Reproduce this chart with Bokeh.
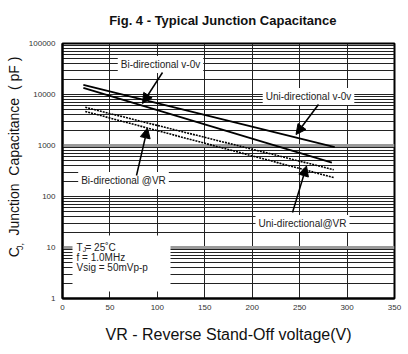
import math
from bokeh.plotting import figure
from bokeh.models import (Label, Arrow, NormalHead, BoxAnnotation, FixedTicker,
                          NumeralTickFormatter, Span, LogAxis, LinearAxis)
from bokeh.embed import file_html
from bokeh.resources import INLINE

# ---- data ----
x_ticks = [0, 50, 100, 150, 200, 250, 300, 350]
y_ticks = [1, 10, 100, 1000, 10000, 100000]

uni_v0_v = [22, 287]
uni_v0_c = [15500, 930]
bi_v0_v = [22, 284]
bi_v0_c = [13500, 460]
uni_vr_v = [24, 286]
uni_vr_c = [5600, 335]
bi_vr_v = [24, 286]
bi_vr_c = [4650, 235]

FONT = "Liberation Sans"
W, H = 408, 354
# frame geometry (pixels in the 408x354 page)
FL, FR, FT, FB = 62, 394, 43, 298


def dx(px):
    return (px - FL) * 350.0 / (FR - FL)


def dy(py):
    return 10 ** (5 - (py - FT) * 5.0 / (FB - FT))


p = figure(width=W, height=H, y_axis_type="log", x_range=(0, 350), y_range=(1, 100000),
           output_backend="svg", toolbar_location=None,
           min_border_left=FL, min_border_right=W - FR, min_border_top=FT,
           min_border_bottom=H - FB)
p.background_fill_color = "white"
p.border_fill_color = "white"
p.outline_line_color = "black"
p.outline_line_width = 2


def plain(ax, font_size, color="#222222"):
    ax.major_tick_line_color = None
    ax.minor_tick_line_color = None
    ax.major_tick_out = 0
    ax.major_tick_in = 0
    ax.minor_tick_out = 0
    ax.minor_tick_in = 0
    ax.major_label_text_font = FONT
    ax.major_label_text_font_size = font_size
    ax.major_label_text_color = color


minor = [m * 10 ** d for d in range(0, 5) for m in range(2, 10)]
p.yaxis.ticker = FixedTicker(ticks=y_ticks, minor_ticks=minor)
p.xaxis.ticker = FixedTicker(ticks=x_ticks, minor_ticks=[])
p.yaxis.formatter = NumeralTickFormatter(format="0")
for ax in (p.xaxis, p.yaxis):
    plain(ax, "8px", "#333333")
    ax.axis_line_color = "black"
    ax.axis_line_width = 2
p.yaxis.major_label_standoff = 7
p.xaxis.major_label_standoff = 6

# x axis title
p.xaxis.axis_label = "VR - Reverse Stand-Off voltage(V)"
p.xaxis.axis_label_text_font = FONT
p.xaxis.axis_label_text_font_size = "16px"
p.xaxis.axis_label_text_font_style = "normal"
p.xaxis.axis_label_text_color = "#111111"
p.xaxis.axis_label_standoff = 13

# chart title, drawn as the single label of an axis above the frame
title_ax = LinearAxis(ticker=FixedTicker(ticks=[169]),
                      major_label_overrides={169: "Fig. 4 - Typical Junction Capacitance"})
plain(title_ax, "13px", "#111111")
title_ax.major_label_text_font_style = "bold"
title_ax.axis_line_color = None
title_ax.major_label_standoff = 16
p.add_layout(title_ax, "above")

# y axis title: "C" + subscript "J," + rest, drawn as labels of two extra left axes
sub_ax = LogAxis(ticker=FixedTicker(ticks=[10.5]), major_label_overrides={10.5: "J,"},
                 major_label_orientation="parallel")
plain(sub_ax, "9px", "#111111")
sub_ax.axis_line_color = None
sub_ax.major_label_standoff = 0
p.add_layout(sub_ax, "left")

ylab_ax = LogAxis(ticker=FixedTicker(ticks=[595]),
                  major_label_overrides={595: "C\u00a0\u00a0\u00a0Junction\u00a0 Capacitance\u00a0\u00a0(\u00a0pF\u00a0)"},
                  major_label_orientation="parallel")
plain(ylab_ax, "14px", "#111111")
ylab_ax.axis_line_color = None
ylab_ax.major_label_standoff = -10
p.add_layout(ylab_ax, "left")

p.xgrid.grid_line_color = "#222222"
p.xgrid.grid_line_width = 1
p.ygrid.grid_line_color = "#222222"
p.ygrid.grid_line_width = 1
p.ygrid.minor_grid_line_color = "#222222"
p.ygrid.minor_grid_line_width = 1

for loc in (1000, 10):
    p.add_layout(Span(location=loc, dimension="width", line_color="#9a9a9a",
                      line_width=3, level="underlay"))

p.line(uni_v0_v, uni_v0_c, line_color="black", line_width=1.8)
p.line(bi_v0_v, bi_v0_c, line_color="black", line_width=1.8)
p.line(uni_vr_v, uni_vr_c, line_color="black", line_width=1.6, line_dash="2 1")
p.line(bi_vr_v, bi_vr_c, line_color="black", line_width=1.6, line_dash="2 1")

# white box behind conditions text
p.add_layout(BoxAnnotation(left=dx(72), right=dx(170), top=dy(235), bottom=dy(291),
                           fill_color="white", fill_alpha=1, line_alpha=0))


def lab(text, px, py, size="10px", align="center", **kw):
    p.add_layout(Label(x=dx(px), y=dy(py), text=text, text_font=FONT, text_font_size=size,
                       text_align=align, text_baseline="middle", text_color="#222222", **kw))


bg = dict(background_fill_color="white", background_fill_alpha=1.0, padding=3)
lab("Bi-directional v-0v", 160, 64, **bg)
lab("Uni-directional v-0v", 308, 96, **bg)
lab("Bi-directional @VR", 123, 180, **bg)
lab("Uni-directional@VR", 302, 223, **bg)

for (tx, ty, hx, hy) in [(162, 72, 142, 103), (318, 104, 295.5, 134),
                          (136, 175, 147, 127.5), (292, 212, 306, 165.5)]:
    p.add_layout(Arrow(x_start=dx(tx), y_start=dy(ty), x_end=dx(hx), y_end=dy(hy),
                       line_color="black", line_width=1.5,
                       end=NormalHead(size=10, fill_color="black", line_color="black")))

# conditions text
lab("T", 76, 246.5, align="left")
lab("J", 82.3, 249, size="7px", align="left")
lab(" = 25\u02daC", 85, 246.5, align="left")
lab("f = 1.0MHz", 76, 256.5, align="left")
lab("Vsig = 50mVp-p", 76, 266.5, align="left")

open("out.html", "w").write(file_html(p, INLINE))
